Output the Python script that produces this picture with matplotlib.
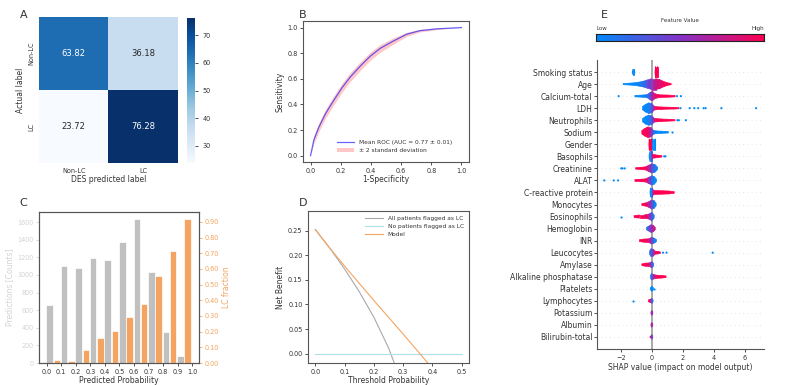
import numpy as np
import matplotlib
matplotlib.use("Agg")
import matplotlib.pyplot as plt
import seaborn as sns
from matplotlib.colors import LinearSegmentedColormap
from matplotlib.collections import PolyCollection
from matplotlib.ticker import FormatStrFormatter

plt.rcParams['font.family'] = ['DejaVu Sans']
plt.rcParams['text.color'] = '#333333'
plt.rcParams['axes.labelcolor'] = '#333333'
plt.rcParams['xtick.color'] = '#333333'
plt.rcParams['ytick.color'] = '#333333'
plt.rcParams['axes.edgecolor'] = '#555555'
plt.rcParams['axes.linewidth'] = 0.8
plt.rcParams['xtick.major.size'] = 2.5
plt.rcParams['ytick.major.size'] = 2.5
plt.rcParams['xtick.major.width'] = 0.6
plt.rcParams['ytick.major.width'] = 0.6

FS_LAB = 5.5
FS_TICK = 4.7
FS_LEG = 4.2
FS_LET = 8

# ---- A: confusion matrix (percent)
cm_labels = ['Non-LC', 'LC']
cm_values = [[63.82, 36.18], [23.72, 76.28]]

# ---- B: mean ROC
roc_fpr = [0, 0.022, 0.055, 0.099, 0.154, 0.209, 0.264, 0.33, 0.396, 0.462, 0.549, 0.637, 0.725, 0.835, 1.0]
roc_tpr = [0, 0.123, 0.222, 0.327, 0.432, 0.531, 0.615, 0.70, 0.777, 0.838, 0.895, 0.948, 0.976, 0.99, 1.0]
roc_band = [0, 0.03, 0.034, 0.035, 0.035, 0.035, 0.035, 0.034, 0.032, 0.03, 0.025, 0.016, 0.01, 0.006, 0.0]

# ---- C: calibration histogram
bin_start = [0.0, 0.1, 0.2, 0.3, 0.4, 0.5, 0.6, 0.7, 0.8, 0.9]
pred_counts = [663, 1099, 1083, 1193, 1174, 1375, 1633, 1030, 348, 76]
lc_fraction = [0.017, 0.013, 0.081, 0.162, 0.202, 0.291, 0.379, 0.557, 0.717, 0.917]

# ---- D: decision curve
thr_all = [0.0, 0.05, 0.1, 0.15, 0.2, 0.25, 0.28]
nb_all = [0.252, 0.214, 0.172, 0.126, 0.074, 0.012, -0.035]
thr_none = [0.0, 0.5]
nb_none = [0.0, 0.0]
thr_model = [0.0, 0.05, 0.1, 0.15, 0.2, 0.25, 0.3, 0.35, 0.4]
nb_model = [0.252, 0.214, 0.178, 0.143, 0.108, 0.074, 0.04, 0.005, -0.03]

# ---- E: SHAP summary (top to bottom); core = outline knots, dots = outliers
features = ['Smoking status', 'Age', 'Calcium-total', 'LDH', 'Neutrophils', 'Sodium',
            'Gender', 'Basophils', 'Creatinine', 'ALAT', 'C-reactive protein',
            'Monocytes', 'Eosinophils', 'Hemoglobin', 'INR', 'Leucocytes', 'Amylase',
            'Alkaline phosphatase', 'Platelets', 'Lymphocytes', 'Potassium', 'Albumin',
            'Bilirubin-total']
core_x = [
    [-1.25, -1.22, -1.13, -1.1, 0.2, 0.23, 0.38, 0.41],
    [-1.85, -1.4, -1.0, -0.6, -0.3, 0.0, 0.25, 0.5, 0.8, 1.0, 1.25],
    [-1.1, -0.7, -0.3, -0.1, 0.05, 0.2, 0.5, 1.0, 1.5],
    [-0.6, -0.4, -0.2, 0.0, 0.15, 0.3, 0.6, 1.0, 1.4, 1.75],
    [-0.6, -0.4, -0.2, 0.0, 0.15, 0.3, 0.6, 1.0, 1.3, 1.5],
    [-0.65, -0.45, -0.25, -0.05, 0.1, 0.3, 0.6, 0.9, 1.07],
    [-0.19, -0.17, -0.04, -0.02, 0.04, 0.06, 0.22, 0.24],
    [-0.18, -0.12, -0.02, 0.05, 0.2, 0.4, 0.65],
    [-1.05, -0.7, -0.4, -0.2, 0.0, 0.2, 0.37],
    [-1.1, -0.7, -0.4, -0.2, 0.0, 0.15, 0.3],
    [-0.12, -0.08, 0.04, 0.1, 0.3, 0.7, 1.1, 1.45],
    [-0.65, -0.4, -0.2, 0.0, 0.15, 0.28],
    [-1.15, -0.8, -0.5, -0.2, 0.0, 0.15],
    [-0.35, -0.2, -0.05, 0.1, 0.22],
    [-0.8, -0.5, -0.2, 0.0, 0.15, 0.3],
    [-0.15, -0.05, 0.1, 0.2, 0.4, 0.55],
    [-0.65, -0.4, -0.15, 0.0, 0.12],
    [-0.1, -0.02, 0.08, 0.3, 0.6, 0.92],
    [-0.1, 0.0, 0.1],
    [-0.22, -0.1, 0.0, 0.08],
    [-0.06, 0.0, 0.06],
    [-0.06, 0.0, 0.06],
    [-0.12, -0.05, 0.0, 0.06],
]
core_h = [
    [0, 0.22, 0.22, 0, 0, 0.45, 0.45, 0],
    [0.05, 0.08, 0.13, 0.22, 0.34, 0.45, 0.45, 0.38, 0.2, 0.11, 0.05],
    [0.06, 0.08, 0.13, 0.32, 0.38, 0.2, 0.11, 0.09, 0.06],
    [0.14, 0.32, 0.44, 0.38, 0.16, 0.12, 0.1, 0.08, 0.07, 0.05],
    [0.14, 0.32, 0.42, 0.36, 0.16, 0.13, 0.1, 0.08, 0.06, 0.05],
    [0.14, 0.32, 0.44, 0.38, 0.16, 0.11, 0.09, 0.07, 0.06],
    [0, 0.45, 0.45, 0, 0, 0.45, 0.45, 0],
    [0.13, 0.42, 0.42, 0.16, 0.13, 0.09, 0.06],
    [0.06, 0.09, 0.13, 0.26, 0.38, 0.32, 0.1],
    [0.07, 0.1, 0.13, 0.26, 0.38, 0.32, 0.1],
    [0.1, 0.38, 0.38, 0.17, 0.15, 0.14, 0.12, 0.07],
    [0.08, 0.13, 0.23, 0.38, 0.32, 0.1],
    [0.08, 0.13, 0.13, 0.2, 0.35, 0.13],
    [0.1, 0.2, 0.32, 0.26, 0.1],
    [0.08, 0.13, 0.15, 0.28, 0.2, 0.08],
    [0.13, 0.32, 0.28, 0.13, 0.1, 0.06],
    [0.07, 0.13, 0.15, 0.26, 0.1],
    [0.1, 0.26, 0.2, 0.13, 0.11, 0.07],
    [0.08, 0.2, 0.08],
    [0.08, 0.13, 0.2, 0.08],
    [0.08, 0.18, 0.08],
    [0.08, 0.18, 0.08],
    [0.06, 0.08, 0.18, 0.08],
]
core_c = [
    [0, 0, 0, 0, 1, 1, 1, 1],
    [0, 0, 0.02, 0.1, 0.3, 0.55, 0.75, 0.85, 0.95, 1, 1],
    [0, 0, 0.1, 0.4, 0.6, 0.85, 1, 1, 1],
    [0, 0, 0.05, 0.2, 0.7, 1, 1, 1, 1, 1],
    [0, 0, 0.05, 0.2, 0.7, 1, 1, 1, 1, 1],
    [1, 1, 0.95, 0.7, 0.2, 0, 0, 0, 0],
    [1, 1, 1, 1, 0, 0, 0, 0],
    [0, 0, 0.1, 0.8, 1, 1, 1],
    [1, 1, 1, 0.8, 0.4, 0.1, 0],
    [1, 1, 1, 0.7, 0.2, 0, 0],
    [0, 0, 0.1, 0.9, 1, 1, 1, 1],
    [1, 1, 0.8, 0.4, 0.1, 0],
    [1, 1, 1, 0.8, 0.3, 0],
    [0, 0.3, 0.5, 0.7, 0.9],
    [1, 1, 0.9, 0.5, 0.1, 0],
    [0, 0.2, 0.5, 0.9, 1, 1],
    [1, 1, 0.9, 0.4, 0],
    [0, 0, 0.5, 1, 1, 1],
    [0, 0, 0],
    [1, 1, 0.3, 0],
    [0.6, 0.6, 0.6],
    [0.65, 0.65, 0.65],
    [1, 0.8, 0.4, 0.3],
]
dot_x = [
    [], [], [-2.15, 1.62, 1.88],
    [1.85, 2.45, 2.75, 3.0, 3.35, 3.48, 4.5, 6.75],
    [1.65, 1.75, 2.2], [1.29], [], [0.8, 0.88],
    [-1.98, -1.9, -1.76], [-3.08, -2.47, -2.19], [], [], [-1.98], [], [],
    [0.72, 0.95, 3.94], [], [], [0.15], [-1.23], [], [], [],
]
dot_c = [
    [], [], [0, 1, 1],
    [1, 1, 1, 1, 1, 1, 1, 1],
    [1, 1, 1], [0], [], [1, 1],
    [1, 1, 1], [1, 1, 1], [], [], [1], [], [],
    [1, 1, 1], [], [], [1], [1], [], [], [],
]

shap_cmap = LinearSegmentedColormap.from_list(
    'shap_rb', [(0.0, 0.543, 0.983), (0.52, 0.2, 0.78), (1.0, 0.0, 0.318)])

fig = plt.figure(figsize=(7.89, 3.85), dpi=100)

# ================= A
axA = fig.add_axes([0.0494, 0.5766, 0.1762, 0.379])
caxA = fig.add_axes([0.237, 0.5766, 0.0101, 0.3766])
sns.heatmap(np.array(cm_values), annot=True, fmt='.2f', cmap='Blues', ax=axA, cbar_ax=caxA,
            xticklabels=cm_labels, yticklabels=cm_labels, annot_kws={'size': 6})
axA.tick_params(length=0, labelsize=FS_TICK)
for t in axA.get_yticklabels():
    t.set_rotation(90)
    t.set_va('center')
axA.set_xlabel('DES predicted label', fontsize=FS_LAB, labelpad=1)
axA.set_ylabel('Actual label', fontsize=FS_LAB, labelpad=2)
caxA.tick_params(labelsize=FS_TICK, length=2)
caxA.set_yticks([30, 40, 50, 60, 70])
fig.text(0.025, 0.975, 'A', fontsize=FS_LET, va='top')

# ================= B
axB = fig.add_axes([0.384, 0.579, 0.2104, 0.366])
lo = np.array(roc_tpr) - np.array(roc_band)
hi = np.minimum(np.array(roc_tpr) + np.array(roc_band), 1)
axB.fill_between(roc_fpr, lo, hi, color='red', alpha=0.22, lw=0, label='± 2 standard deviation')
axB.plot(roc_fpr, roc_tpr, color='b', alpha=0.6, lw=0.9, label='Mean ROC (AUC = 0.77 ± 0.01)')
axB.set_xlim(-0.05, 1.05)
axB.set_ylim(-0.05, 1.05)
axB.set_xticks([0, 0.2, 0.4, 0.6, 0.8, 1.0])
axB.set_yticks([0, 0.2, 0.4, 0.6, 0.8, 1.0])
axB.tick_params(labelsize=FS_TICK, pad=1.5)
axB.set_xlabel('1-Specificity', fontsize=FS_LAB, labelpad=1)
axB.set_ylabel('Sensitivity', fontsize=FS_LAB, labelpad=2)
h, l = axB.get_legend_handles_labels()
axB.legend(h[::-1], l[::-1], loc='lower right', frameon=False, fontsize=FS_LEG,
           bbox_to_anchor=(0.93, 0.03), handlelength=3)
fig.text(0.379, 0.975, 'B', fontsize=FS_LET, va='top')

# ================= C
axC = fig.add_axes([0.0494, 0.0571, 0.2028, 0.392])
xs = np.array(bin_start)
axC.bar(xs + 0.02, pred_counts, width=0.045, color='silver', edgecolor='white', lw=0.5)
axC.set_ylabel('Predictions [Counts]', fontsize=FS_LAB, color='lightgray', labelpad=2)
axC.tick_params(axis='y', colors='lightgray', labelsize=FS_TICK, pad=1.5)
axC.tick_params(axis='x', labelsize=FS_TICK, pad=1.5)
axC.set_xticks(np.arange(0, 1.01, 0.1))
axC.set_xticklabels(['%.1f' % v for v in np.arange(0, 1.01, 0.1)])
axC.set_xlabel('Predicted Probability', fontsize=FS_LAB, labelpad=1)
axC2 = axC.twinx()
axC2.bar(xs + 0.07, lc_fraction, width=0.045, color='sandybrown', edgecolor='white', lw=0.5)
axC2.yaxis.set_major_formatter(FormatStrFormatter('%.2f'))
axC2.set_yticks(np.arange(0, 0.91, 0.1))
axC2.tick_params(axis='y', colors='sandybrown', labelsize=FS_TICK, pad=1.5)
axC2.set_ylabel('LC fraction', fontsize=FS_LAB, color='sandybrown', labelpad=2)
axC.set_xlim(-0.0525, 1.0475)
fig.text(0.025, 0.485, 'C', fontsize=FS_LET, va='top')

# ================= D
axD = fig.add_axes([0.3904, 0.0571, 0.204, 0.395])
axD.plot(thr_all, nb_all, color='darkgray', lw=0.8, label='All patients flagged as LC')
axD.plot(thr_none, nb_none, color='powderblue', lw=0.8, label='No patients flagged as LC')
axD.plot(thr_model, nb_model, color='sandybrown', lw=0.8, label='Model')
axD.set_xlim(-0.025, 0.525)
axD.set_ylim(-0.019, 0.29)
axD.set_yticks([0, 0.05, 0.1, 0.15, 0.2, 0.25])
axD.yaxis.set_major_formatter(FormatStrFormatter('%.2f'))
axD.tick_params(labelsize=FS_TICK, pad=1.5)
axD.set_xlabel('Threshold Probability', fontsize=FS_LAB, labelpad=1)
axD.set_ylabel('Net Benefit', fontsize=FS_LAB, labelpad=2)
axD.legend(loc='upper right', frameon=False, fontsize=FS_LEG, handlelength=3)
fig.text(0.379, 0.485, 'D', fontsize=FS_LET, va='top')

# ================= E
axE = fig.add_axes([0.7563, 0.0935, 0.212, 0.7506])
n = len(features)
for i, name in enumerate(features):
    y = n - 1 - i
    axE.axhline(y, color='#cccccc', lw=0.5, dashes=(1, 5), zorder=-1)
    px, ph, pc = core_x[i], core_h[i], core_c[i]
    polys, cols = [], []
    for j in range(len(px) - 1):
        if ph[j] == 0 and ph[j + 1] == 0:
            continue
        polys.append([(px[j], y - ph[j]), (px[j + 1], y - ph[j + 1]),
                      (px[j + 1], y + ph[j + 1]), (px[j], y + ph[j])])
        cols.append(shap_cmap((pc[j] + pc[j + 1]) / 2))
    axE.add_collection(PolyCollection(polys, facecolors=cols, edgecolors=cols, linewidths=0.5))
    if dot_x[i]:
        axE.scatter(dot_x[i], [y] * len(dot_x[i]), c=[shap_cmap(c) for c in dot_c[i]],
                    s=2.5, lw=0)
axE.axvline(0, color='#999999', lw=1.2, zorder=-1)
axE.set_xlim(-3.57, 7.26)
axE.set_ylim(-1, n)
axE.set_yticks(range(n))
axE.set_yticklabels(features[::-1], fontsize=FS_LAB)
axE.set_xticks([-2, 0, 2, 4, 6])
axE.tick_params(axis='x', labelsize=FS_TICK, pad=1.5)
axE.tick_params(axis='y', pad=1, length=2)
axE.spines['top'].set_visible(False)
axE.spines['right'].set_visible(False)
axE.set_xlabel('SHAP value (impact on model output)', fontsize=FS_LAB, labelpad=2)

caxE = fig.add_axes([0.7554, 0.894, 0.213, 0.018])
grad = np.linspace(0, 1, 256).reshape(1, -1)
caxE.imshow(grad, aspect='auto', cmap=shap_cmap, extent=[0, 1, 0, 1])
caxE.set_xticks([])
caxE.set_yticks([])
for s in caxE.spines.values():
    s.set_color('#222222')
    s.set_linewidth(0.8)
fig.text(0.862, 0.948, 'Feature Value', fontsize=4, ha='center', va='center')
fig.text(0.7560, 0.927, 'Low', fontsize=4, ha='left', va='center')
fig.text(0.9683, 0.927, 'High', fontsize=4, ha='right', va='center')
fig.text(0.762, 0.975, 'E', fontsize=FS_LET, va='top')

fig.savefig('out.png', dpi=100)
